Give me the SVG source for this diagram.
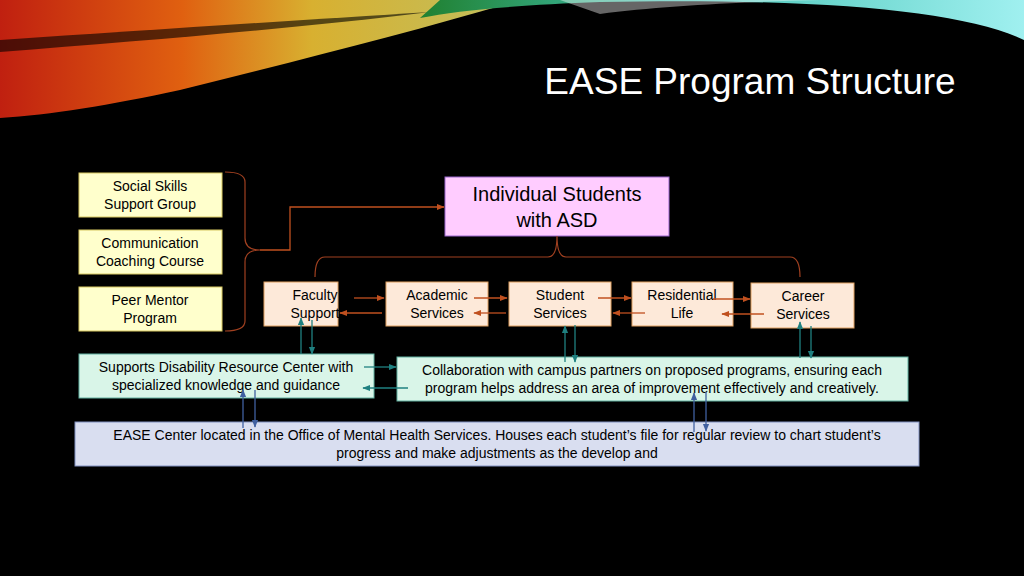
<svg xmlns="http://www.w3.org/2000/svg" width="1024" height="576" viewBox="0 0 1024 576">
<defs>
<linearGradient id="warm" x1="0" y1="0" x2="1" y2="0">
<stop offset="0" stop-color="#c02010"/><stop offset="0.35" stop-color="#e06010"/><stop offset="0.6" stop-color="#d8b030"/><stop offset="1" stop-color="#c0c060"/>
</linearGradient>
<linearGradient id="cool" x1="0" y1="0" x2="1" y2="0">
<stop offset="0" stop-color="#208030"/><stop offset="0.4" stop-color="#40c0b0"/><stop offset="1" stop-color="#a0f0f0"/>
</linearGradient>
<marker id="ao" viewBox="0 0 10 10" refX="9" refY="5" markerWidth="6" markerHeight="6" orient="auto"><path d="M0,1 L10,5 L0,9 z" fill="#c0501f"/></marker>
<marker id="at" viewBox="0 0 10 10" refX="9" refY="5" markerWidth="6" markerHeight="6" orient="auto"><path d="M0,1 L10,5 L0,9 z" fill="#1f8080"/></marker>
<marker id="ab" viewBox="0 0 10 10" refX="9" refY="5" markerWidth="6" markerHeight="6" orient="auto"><path d="M0,1 L10,5 L0,9 z" fill="#4060a0"/></marker>
</defs>
<style>
text{font-family:"Liberation Sans",Arial,sans-serif;fill:#000;text-anchor:middle}
.y rect{fill:#ffffcc;stroke:#d8c860;stroke-width:1}
.o rect{fill:#fde9d9;stroke:#e0a060;stroke-width:1}
.g rect{fill:#d9f5e8;stroke:#60b0a0;stroke-width:1}
.s{font-size:14px}
.oc{stroke:#c0501f;stroke-width:1.3;fill:none}
.tc{stroke:#1f8080;stroke-width:1.3;fill:none}
.bc{stroke:#4060a0;stroke-width:1.3;fill:none}
.br{stroke:#a04020;stroke-width:1.2;fill:none}
</style>
<rect width="1024" height="576" fill="#000"/>
<g id="decor">
<path d="M0,0 L520,0 C420,30 300,60 180,90 C110,105 50,115 0,118 z" fill="url(#warm)"/>
<path d="M0,40 C150,30 300,20 430,12 C300,28 150,40 0,52 z" fill="#000" opacity="0.6"/>
<path d="M440,0 L1024,0 L1024,40 C960,10 820,-2 600,2 C520,5 460,10 420,18 z" fill="url(#cool)"/>
<path d="M560,0 L820,0 C740,2 660,6 600,14 z" fill="#fff" opacity="0.4"/>
</g>
<text x="750" y="94" style="font-size:37px;fill:#fff">EASE Program Structure</text>
<g id="social" class="y"><rect x="79" y="173" width="143" height="44"/><text class="s" x="150" y="191">Social Skills</text><text class="s" x="150" y="209">Support Group</text></g>
<g id="comm" class="y"><rect x="79" y="230" width="143" height="44"/><text class="s" x="150" y="248">Communication</text><text class="s" x="150" y="266">Coaching Course</text></g>
<g id="peer" class="y"><rect x="79" y="287" width="143" height="44"/><text class="s" x="150" y="305">Peer Mentor</text><text class="s" x="150" y="323">Program</text></g>
<g id="students"><rect x="445" y="177" width="224" height="59" fill="#ffccff" stroke="#9966cc"/><text x="557" y="201" style="font-size:20px">Individual Students</text><text x="557" y="227" style="font-size:20px">with ASD</text></g>
<g id="faculty" class="o"><rect x="264" y="282" width="74" height="44"/><text class="s" x="315" y="300">Faculty</text><text class="s" x="315" y="318">Support</text></g>
<g id="academic" class="o"><rect x="386" y="282" width="102" height="44"/><text class="s" x="437" y="300">Academic</text><text class="s" x="437" y="318">Services</text></g>
<g id="studentsvc" class="o"><rect x="509" y="282" width="102" height="44"/><text class="s" x="560" y="300">Student</text><text class="s" x="560" y="318">Services</text></g>
<g id="residential" class="o"><rect x="632" y="282" width="101" height="44"/><text class="s" x="682" y="300">Residential</text><text class="s" x="682" y="318">Life</text></g>
<g id="career" class="o"><rect x="751" y="283" width="103" height="45"/><text class="s" x="803" y="301">Career</text><text class="s" x="803" y="319">Services</text></g>
<g id="supports" class="g"><rect x="79" y="354" width="295" height="44"/><text class="s" x="226" y="372">Supports Disability Resource Center with</text><text class="s" x="226" y="390">specialized knowledge and guidance</text></g>
<g id="collab" class="g"><rect x="397" y="357" width="511" height="44"/><text class="s" x="652" y="375">Collaboration with campus partners on proposed programs, ensuring each</text><text class="s" x="652" y="393">program helps address an area of improvement effectively and creatively.</text></g>
<g id="center"><rect x="75" y="422" width="844" height="44" fill="#d9def0" stroke="#8090c0"/><text class="s" x="497" y="440">EASE Center located in the Office of Mental Health Services.  Houses each student’s file for regular review to chart student’s</text><text class="s" x="497" y="458">progress and make adjustments as the develop and</text></g>
<g id="connectors">
<path class="br" d="M225,172 Q245,172 245,182 L245,238 Q245,250 260,250 Q245,250 245,262 L245,321 Q245,331 225,331"/>
<path class="oc" d="M260,250 L290,250 L290,207 L444,207" marker-end="url(#ao)"/>
<path class="br" d="M315,277 Q315,257 325,257 L548,257 Q557,257 557,236 Q557,257 566,257 L790,257 Q800,257 800,277"/>
<line class="oc" x1="354" y1="298" x2="384" y2="298" marker-end="url(#ao)"/>
<line class="oc" x1="382" y1="313" x2="340" y2="313" marker-end="url(#ao)"/>
<line class="oc" x1="474" y1="298" x2="507" y2="298" marker-end="url(#ao)"/>
<line class="oc" x1="506" y1="313" x2="474" y2="313" marker-end="url(#ao)"/>
<line class="oc" x1="598" y1="298" x2="631" y2="298" marker-end="url(#ao)"/>
<line class="oc" x1="645" y1="313" x2="613" y2="313" marker-end="url(#ao)"/>
<line class="oc" x1="713" y1="299" x2="750" y2="299" marker-end="url(#ao)"/>
<line class="oc" x1="764" y1="314" x2="722" y2="314" marker-end="url(#ao)"/>
<line class="tc" x1="301" y1="354" x2="301" y2="318" marker-end="url(#at)"/>
<line class="tc" x1="312" y1="320" x2="312" y2="354" marker-end="url(#at)"/>
<line class="tc" x1="565" y1="362" x2="565" y2="326" marker-end="url(#at)"/>
<line class="tc" x1="575" y1="325" x2="575" y2="362" marker-end="url(#at)"/>
<line class="tc" x1="800" y1="358" x2="800" y2="322" marker-end="url(#at)"/>
<line class="tc" x1="811" y1="326" x2="811" y2="358" marker-end="url(#at)"/>
<line class="tc" x1="364" y1="367" x2="396" y2="367" marker-end="url(#at)"/>
<line class="tc" x1="408" y1="388" x2="363" y2="388" marker-end="url(#at)"/>
<line class="bc" x1="243" y1="428" x2="243" y2="390" marker-end="url(#ab)"/>
<line class="bc" x1="255" y1="390" x2="255" y2="427" marker-end="url(#ab)"/>
<line class="bc" x1="694" y1="432" x2="694" y2="393" marker-end="url(#ab)"/>
<line class="bc" x1="706" y1="392" x2="706" y2="431" marker-end="url(#ab)"/>
</g>
</svg>
